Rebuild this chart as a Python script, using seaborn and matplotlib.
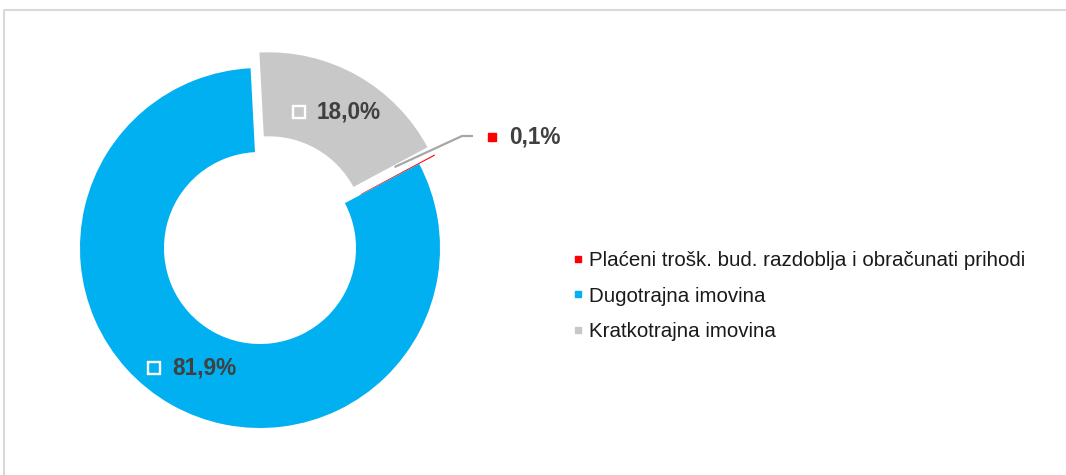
import numpy as np
import matplotlib
matplotlib.use("Agg")
import matplotlib.pyplot as plt
import seaborn as sns
from matplotlib.lines import Line2D

categories = ["Plaćeni trošk. bud. razdoblja i obračunati prihodi",
              "Dugotrajna imovina", "Kratkotrajna imovina"]
values = [0.1, 81.9, 18.0]
value_labels = ["0,1%", "81,9%", "18,0%"]
colors = ["#FF0000", "#00B0F0", "#C8C8C8"]

sns.set_theme(style="white")
plt.rcParams['font.family'] = ['Liberation Sans', 'DejaVu Sans']

W, H = 1066, 475
fig = plt.figure(figsize=(W / 100, H / 100), dpi=100)
ax = fig.add_axes([0, 0, 1, 1])

cx, cy = 260, H - 248
R, ring = 180, 84
explode = [18, 0, 18]
start = 90 - 61.8
wedges, _ = ax.pie(values, colors=colors, radius=R, center=(cx, cy),
                   startangle=start, counterclock=False, explode=explode,
                   wedgeprops=dict(width=ring, linewidth=0), frame=True)
ax.set_xlim(0, W)
ax.set_ylim(0, H)
ax.set_aspect('equal')
ax.axis('off')

label_color = "#404040"
rmid = R - ring / 2
for i in (1, 2):
    w = wedges[i]
    th = np.deg2rad((w.theta1 + w.theta2) / 2)
    px = w.center[0] + rmid * np.cos(th)
    py = w.center[1] + rmid * np.sin(th)
    ax.plot([px - 38], [py], marker='s', markersize=8.2, markerfacecolor='none',
            markeredgecolor='white', markeredgewidth=1.7, linestyle='none')
    ax.text(px - 20, py, value_labels[i], ha='left', va='center', fontsize=16.3,
            fontweight='bold', color=label_color)

# red slice label with leader line
w = wedges[0]
th = np.deg2rad((w.theta1 + w.theta2) / 2 + 3)
sx = cx + 157 * np.cos(th)
sy = cy + 157 * np.sin(th)
ax.plot([sx, 462, 473], [sy, H - 136, H - 136], color="#A6A6A6", lw=1.6,
        solid_capstyle='butt', zorder=5)
ax.plot([492], [H - 137], marker='s', markersize=5.5, color=colors[0],
        linestyle='none')
ax.text(509, H - 137, value_labels[0], ha='left', va='center', fontsize=16.3,
        fontweight='bold', color=label_color)

handles = [Line2D([0], [0], marker='s', color=c, markersize=4.6, linestyle='none')
           for c in colors]
leg = ax.legend(handles, categories, loc='center left',
                bbox_to_anchor=(572, H - 296), bbox_transform=ax.transData,
                frameon=False, fontsize=14.8, handlelength=0.55,
                handletextpad=0.3, labelspacing=0.8, borderpad=0,
                borderaxespad=0)
for t in leg.get_texts():
    t.set_color("#1A1A1A")

# outer frame (left and top edges)
fig.add_artist(Line2D([3.5 / W, 3.5 / W, 1], [0, 1 - 9.5 / H, 1 - 9.5 / H],
                      transform=fig.transFigure, color="#D9D9D9", lw=1.5))

fig.savefig("out.png", dpi=100)
